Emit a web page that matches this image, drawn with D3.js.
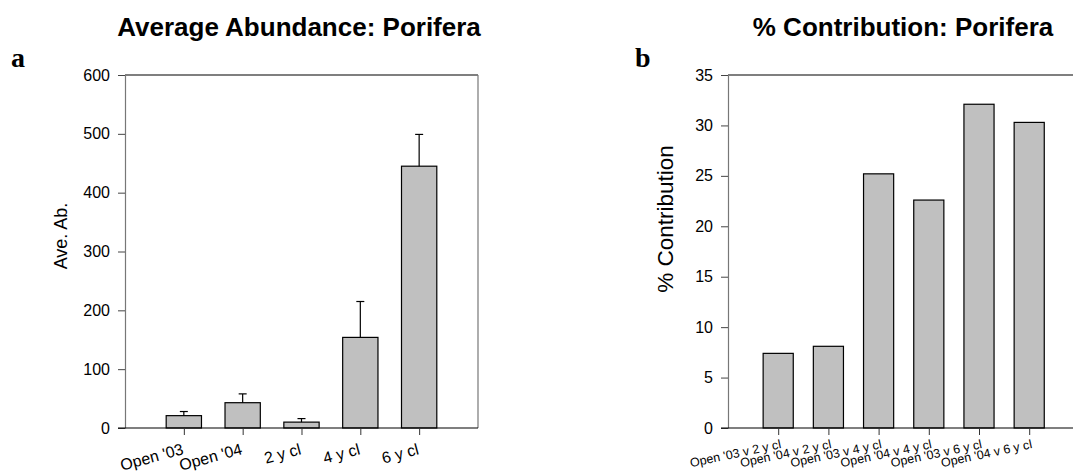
<!DOCTYPE html>
<html>
<head>
<meta charset="utf-8">
<script src="https://cdn.jsdelivr.net/npm/d3@7.9.0/dist/d3.min.js"></script>
<style>
  body { margin: 0; background: #fff; }
  svg { display: block; font-family: "Liberation Sans", Arial, sans-serif; }
</style>
</head>
<body>
<svg id="chart" width="1073" height="473"></svg>
<script>
// ---- data ----
const abCategories = ["Open '03", "Open '04", "2 y cl", "4 y cl", "6 y cl"];
const abMeans = [21, 43, 10, 154, 445];
const abErrors = [7, 15, 6, 61, 54];
const abTicks = [0, 100, 200, 300, 400, 500, 600];

const pcCategories = ["Open '03 v 2 y cl", "Open '04 v 2 y cl", "Open '03 v 4 y cl",
                      "Open '04 v 4 y cl", "Open '03 v 6 y cl", "Open '04 v 6 y cl"];
const pcValues = [7.4, 8.1, 25.2, 22.6, 32.1, 30.3];
const pcTicks = [0, 5, 10, 15, 20, 25, 30, 35];

const svg = d3.select("#chart");

// one panel; categories sit at 1..n on a linear x scale running 0..n+1
function panel(opt) {
  const { left, right, top, bottom } = opt;
  const g = svg.append("g");

  const x = d3.scaleLinear().domain([0, opt.cats.length + 1]).range([left, left + opt.slotW * (opt.cats.length + 1)]);
  const y = d3.scaleLinear().domain([0, opt.yMax]).range([bottom, top]);
  const bw = opt.slotW * 0.6;

  // bars
  g.selectAll("rect.bar")
    .data(opt.values)
    .enter()
    .append("rect")
    .attr("x", (d, i) => x(i + 1) - bw / 2)
    .attr("y", d => y(d))
    .attr("width", bw)
    .attr("height", d => bottom - y(d))
    .attr("fill", "#c0c0c0")
    .attr("stroke", "#000")
    .attr("stroke-width", 1.2);

  // error bars (upper only)
  if (opt.errors) {
    const eg = g.selectAll("g.err")
      .data(opt.values)
      .enter()
      .append("g")
      .attr("stroke", "#000")
      .attr("stroke-width", 1.2);
    eg.append("line")
      .attr("x1", (d, i) => x(i + 1)).attr("x2", (d, i) => x(i + 1))
      .attr("y1", d => y(d)).attr("y2", (d, i) => y(d + opt.errors[i]));
    eg.append("line")
      .attr("x1", (d, i) => x(i + 1) - 4).attr("x2", (d, i) => x(i + 1) + 4)
      .attr("y1", (d, i) => y(d + opt.errors[i])).attr("y2", (d, i) => y(d + opt.errors[i]));
  }

  // frame: top and right
  g.append("line")
    .attr("x1", left).attr("x2", right).attr("y1", top).attr("y2", top)
    .attr("stroke", "#000").attr("stroke-width", 1.2);
  g.append("line")
    .attr("x1", right).attr("x2", right).attr("y1", top).attr("y2", bottom)
    .attr("stroke", "#777").attr("stroke-width", 1.2);

  // y axis
  const yAxis = g.append("g")
    .attr("transform", `translate(${left},0)`)
    .call(d3.axisLeft(y).tickValues(opt.yTicks).tickSize(7).tickPadding(8).tickSizeOuter(0));
  yAxis.select(".domain").attr("stroke", "#777").attr("stroke-width", 1.2);
  yAxis.selectAll(".tick line").attr("stroke", "#444");
  yAxis.selectAll("text").attr("font-size", "16px").attr("font-family", "Liberation Sans, Arial, sans-serif").attr("fill", "#000");

  // x axis
  const xAxis = g.append("g")
    .attr("transform", `translate(0,${bottom})`)
    .call(d3.axisBottom(x)
      .tickValues(d3.range(1, opt.cats.length + 1))
      .tickFormat(d => opt.cats[d - 1])
      .tickSize(7).tickSizeOuter(0));
  xAxis.select(".domain").attr("stroke", "#000").attr("stroke-width", 1.2)
    .attr("d", `M${left - 7},0H${right}`);
  xAxis.selectAll(".tick line").attr("stroke", "#333");
  xAxis.selectAll("text")
    .attr("font-size", opt.xFont)
    .attr("font-family", "Liberation Sans, Arial, sans-serif")
    .attr("fill", "#000")
    .attr("text-anchor", "end")
    .attr("dy", 0)
    .attr("y", 0)
    .attr("transform", `translate(${opt.xShift},${opt.xDown}) rotate(${opt.rot})`);

  // y label
  g.append("text")
    .attr("transform", `translate(${opt.yLabX},${opt.yLabY}) rotate(-90)`)
    .attr("text-anchor", "middle")
    .attr("font-size", opt.yLabFont)
    .text(opt.yLabel);

  // title
  g.append("text")
    .attr("x", opt.titleX).attr("y", 36)
    .attr("text-anchor", "middle")
    .attr("font-size", "26px")
    .attr("font-weight", "bold")
    .text(opt.title);

  // panel letter
  g.append("text")
    .attr("x", opt.letterX).attr("y", 67)
    .attr("font-family", "Liberation Serif, Times New Roman, serif")
    .attr("font-size", "28px")
    .attr("font-weight", "bold")
    .text(opt.letter);
}

panel({
  left: 125, right: 478, top: 75, bottom: 428,
  slotW: 58.83, cats: abCategories, values: abMeans, errors: abErrors,
  yMax: 600, yTicks: abTicks, xFont: "16px", rot: -15, xShift: 0, xDown: 26,
  yLabel: "Ave. Ab.", yLabFont: "18px", yLabX: 67, yLabY: 236,
  title: "Average Abundance: Porifera", titleX: 299, letter: "a", letterX: 11
});

panel({
  left: 728, right: 1080, top: 75, bottom: 428,
  slotW: 50.2, cats: pcCategories, values: pcValues, errors: null,
  yMax: 35, yTicks: pcTicks, xFont: "12.5px", rot: -12, xShift: 3, xDown: 20,
  yLabel: "% Contribution", yLabFont: "22.5px", yLabX: 673, yLabY: 219,
  title: "% Contribution: Porifera", titleX: 903, letter: "b", letterX: 635
});
</script>
</body>
</html>
